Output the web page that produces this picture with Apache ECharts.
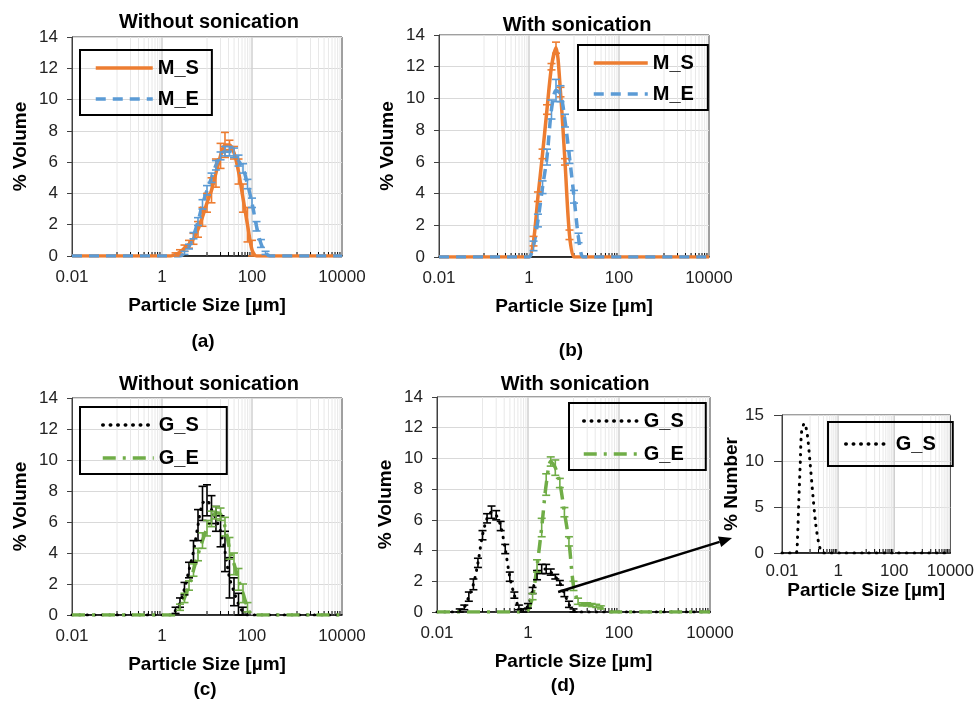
<!DOCTYPE html>
<html>
<head>
<meta charset="utf-8">
<script src="https://cdn.jsdelivr.net/npm/echarts@6/dist/echarts.min.js"></script>
</head>
<body style="margin:0; background:#fff">
<div id="container" style="width:977px;height:709px"></div>
<script>
// particle size bins (µm), 10 per decade, 0.01 .. 10000
var sizes = [
    0.01, 0.0126, 0.0158, 0.02, 0.0251, 0.0316, 0.0398, 0.0501, 0.0631, 0.0794,
    0.1, 0.126, 0.158, 0.2, 0.251, 0.316, 0.398, 0.501, 0.631, 0.794,
    1, 1.26, 1.58, 2, 2.51, 3.16, 3.98, 5.01, 6.31, 7.94,
    10, 12.6, 15.8, 20, 25.1, 31.6, 39.8, 50.1, 63.1, 79.4,
    100, 126, 158, 200, 251, 316, 398, 501, 631, 794,
    1000, 1260, 1580, 2000, 2510, 3160, 3980, 5010, 6310, 7940,
    10000
];

// (a) without sonication
var msA = [
    0, 0, 0, 0, 0, 0, 0, 0, 0, 0,
    0, 0, 0, 0, 0, 0, 0, 0, 0, 0,
    0, 0, 0, 0.1, 0.25, 0.5, 0.75, 1.1, 1.7, 2.5,
    3.4, 4.2, 5.3, 6.4, 7.1, 7.1, 6.6, 5.4, 3.7, 2.0,
    0.4, 0, 0, 0, 0, 0, 0, 0, 0, 0,
    0, 0, 0, 0, 0, 0, 0, 0, 0, 0,
    0
];
var msAErr = [
    0, 0, 0, 0, 0, 0, 0, 0, 0, 0,
    0, 0, 0, 0, 0, 0, 0, 0, 0, 0,
    0, 0, 0, 0.1, 0.15, 0.2, 0.25, 0.35, 0.5, 0.6,
    0.6, 0.8, 0.9, 0.8, 0.8, 0.3, 0.4, 0.8, 0.9, 1.1,
    0.6, 0, 0, 0, 0, 0, 0, 0, 0, 0,
    0, 0, 0, 0, 0, 0, 0, 0, 0, 0,
    0
];
var meA = [
    0, 0, 0, 0, 0, 0, 0, 0, 0, 0,
    0, 0, 0, 0, 0, 0, 0, 0, 0, 0,
    0, 0, 0, 0, 0, 0.2, 0.6, 1.3, 2.2, 3.3,
    4.2, 5.0, 5.8, 6.4, 6.7, 6.7, 6.6, 6.1, 5.6, 4.6,
    3.4, 1.9, 0.8, 0.2, 0, 0, 0, 0, 0, 0,
    0, 0, 0, 0, 0, 0, 0, 0, 0, 0,
    0
];
var meAErr = [
    0, 0, 0, 0, 0, 0, 0, 0, 0, 0,
    0, 0, 0, 0, 0, 0, 0, 0, 0, 0,
    0, 0, 0, 0, 0, 0.1, 0.15, 0.2, 0.25, 0.3,
    0.3, 0.3, 0.3, 0.25, 0.3, 0.3, 0.3, 0.35, 0.3, 0.3,
    0.3, 0.3, 0.25, 0.1, 0, 0, 0, 0, 0, 0,
    0, 0, 0, 0, 0, 0, 0, 0, 0, 0,
    0
];

// (b) with sonication
var msB = [
    0, 0, 0, 0, 0, 0, 0, 0, 0, 0,
    0, 0, 0, 0, 0, 0, 0, 0, 0, 0,
    0, 1.0, 3.8, 6.5, 9.3, 12.0, 13.2, 10.4, 6.0, 1.4,
    0, 0, 0, 0, 0, 0, 0, 0, 0, 0,
    0, 0, 0, 0, 0, 0, 0, 0, 0, 0,
    0, 0, 0, 0, 0, 0, 0, 0, 0, 0,
    0
];
var msBErr = [
    0, 0, 0, 0, 0, 0, 0, 0, 0, 0,
    0, 0, 0, 0, 0, 0, 0, 0, 0, 0,
    0, 0.3, 0.3, 0.3, 0.3, 0.2, 0.35, 0.3, 0.2, 0.3,
    0, 0, 0, 0, 0, 0, 0, 0, 0, 0,
    0, 0, 0, 0, 0, 0, 0, 0, 0, 0,
    0, 0, 0, 0, 0, 0, 0, 0, 0, 0,
    0
];
var meB = [
    0, 0, 0, 0, 0, 0, 0, 0, 0, 0,
    0, 0, 0, 0, 0, 0, 0, 0, 0, 0,
    0, 0.7, 2.3, 4.4, 6.3, 9.3, 10.5, 10.3, 8.6, 6.3,
    3.8, 1.2, 0, 0, 0, 0, 0, 0, 0, 0,
    0, 0, 0, 0, 0, 0, 0, 0, 0, 0,
    0, 0, 0, 0, 0, 0, 0, 0, 0, 0,
    0
];
var meBErr = [
    0, 0, 0, 0, 0, 0, 0, 0, 0, 0,
    0, 0, 0, 0, 0, 0, 0, 0, 0, 0,
    0, 0.3, 0.4, 0.4, 0.5, 0.6, 0.7, 0.5, 0.4, 0.4,
    0.4, 0.3, 0, 0, 0, 0, 0, 0, 0, 0,
    0, 0, 0, 0, 0, 0, 0, 0, 0, 0,
    0, 0, 0, 0, 0, 0, 0, 0, 0, 0,
    0
];

// (c) without sonication
var gsC = [
    0, 0, 0, 0, 0, 0, 0, 0, 0, 0,
    0, 0, 0, 0, 0, 0, 0, 0, 0, 0,
    0, 0, 0, 0.3, 0.8, 1.7, 2.9, 4.1, 5.8, 7.2,
    7.4, 6.8, 6.2, 5.4, 4.1, 2.4, 1.5, 0.7, 0.2, 0,
    0, 0, 0, 0, 0, 0, 0, 0, 0, 0,
    0, 0, 0, 0, 0, 0, 0, 0, 0, 0,
    0
];
var gsCErr = [
    0, 0, 0, 0, 0, 0, 0, 0, 0, 0,
    0, 0, 0, 0, 0, 0, 0, 0, 0, 0,
    0, 0, 0, 0.2, 0.3, 0.4, 0.5, 0.7, 1.0, 1.1,
    1.0, 0.9, 0.8, 1.0, 1.3, 1.3, 0.9, 0.7, 0.3, 0,
    0, 0, 0, 0, 0, 0, 0, 0, 0, 0,
    0, 0, 0, 0, 0, 0, 0, 0, 0, 0,
    0
];
var geC = [
    0, 0, 0, 0, 0, 0, 0, 0, 0, 0,
    0, 0, 0, 0, 0, 0, 0, 0, 0, 0,
    0, 0, 0, 0, 0.5, 1.1, 1.9, 2.9, 3.9, 4.8,
    5.6, 6.2, 6.6, 6.5, 5.7, 4.3, 3.3, 2.3, 1.4, 0.5,
    0, 0, 0, 0, 0, 0, 0, 0, 0, 0,
    0, 0, 0, 0, 0, 0, 0, 0, 0, 0,
    0
];
var geCErr = [
    0, 0, 0, 0, 0, 0, 0, 0, 0, 0,
    0, 0, 0, 0, 0, 0, 0, 0, 0, 0,
    0, 0, 0, 0, 0.2, 0.3, 0.3, 0.4, 0.4, 0.5,
    0.5, 0.5, 0.4, 0.4, 0.6, 0.7, 0.7, 0.7, 0.6, 0.3,
    0, 0, 0, 0, 0, 0, 0, 0, 0, 0,
    0, 0, 0, 0, 0, 0, 0, 0, 0, 0,
    0
];

// (d) with sonication
var gsD = [
    0, 0, 0, 0, 0, 0.1, 0.3, 1.0, 1.8, 3.2,
    5.0, 6.1, 6.5, 6.3, 5.6, 4.1, 2.3, 1.1, 0.3, 0.1,
    0.4, 1.4, 2.4, 2.8, 2.8, 2.6, 2.3, 1.9, 1.2, 0.5,
    0.1, 0, 0, 0, 0, 0, 0, 0, 0, 0,
    0, 0, 0, 0, 0, 0, 0, 0, 0, 0,
    0, 0, 0, 0, 0, 0, 0, 0, 0, 0,
    0
];
var gsDErr = [
    0, 0, 0, 0, 0, 0.1, 0.15, 0.3, 0.35, 0.3,
    0.3, 0.3, 0.4, 0.3, 0.3, 0.3, 0.3, 0.2, 0.15, 0.1,
    0.15, 0.2, 0.3, 0.3, 0.3, 0.2, 0.15, 0.15, 0.2, 0.2,
    0.1, 0, 0, 0, 0, 0, 0, 0, 0, 0,
    0, 0, 0, 0, 0, 0, 0, 0, 0, 0,
    0, 0, 0, 0, 0, 0, 0, 0, 0, 0,
    0
];
var geD = [
    0, 0, 0, 0, 0, 0, 0, 0, 0, 0,
    0, 0, 0, 0, 0, 0, 0, 0, 0, 0,
    0.1, 1.0, 3.0, 5.5, 8.3, 9.8, 9.4, 8.4, 6.5, 4.6,
    1.7, 0.7, 0.5, 0.5, 0.45, 0.4, 0.3, 0.1, 0, 0,
    0, 0, 0, 0, 0, 0, 0, 0, 0, 0,
    0, 0, 0, 0, 0, 0, 0, 0, 0, 0,
    0
];
var geDErr = [
    0, 0, 0, 0, 0, 0, 0, 0, 0, 0,
    0, 0, 0, 0, 0, 0, 0, 0, 0, 0,
    0, 0.2, 0.4, 0.6, 0.7, 0.3, 0.5, 0.3, 0.3, 0.3,
    0.3, 0.2, 0.1, 0.1, 0.1, 0.1, 0.1, 0, 0, 0,
    0, 0, 0, 0, 0, 0, 0, 0, 0, 0,
    0, 0, 0, 0, 0, 0, 0, 0, 0, 0,
    0
];

// inset: G_S number distribution
var insetSizes = [0.01, 0.0316, 0.0355, 0.0398, 0.0447, 0.0501, 0.0631, 0.0794, 0.1, 0.126, 0.158, 0.2, 0.251, 0.316, 1, 10, 100, 1000, 10000];
var insetNumber = [0, 0, 1.5, 5.7, 9.7, 13.2, 14.1, 12.9, 9.8, 6.3, 3.2, 1.2, 0.15, 0, 0, 0, 0, 0, 0];

var xTickLabels = ['0.01', '1', '100', '10000'];
var majorX = [1, 100];
var minorX = [0.1, 0.2, 0.3, 0.4, 0.5, 0.6, 0.7, 0.8, 0.9,
    10, 20, 30, 40, 50, 60, 70, 80, 90,
    1000, 2000, 3000, 4000, 5000, 6000, 7000, 8000, 9000];

var ORANGE = '#ED7D31', BLUE = '#5B9BD5', GREEN = '#70AD47', BLACK = '#000';
var FONT = 'Liberation Sans, Arial, sans-serif';

var dom = document.getElementById('container');
var myChart = echarts.init(dom);

function pairs(vals) {
    return sizes.map(function (s, i) { return [s, vals[i]]; });
}
function errData(vals, errs) {
    var out = [];
    sizes.forEach(function (s, i) {
        if (errs[i] > 0) out.push([s, vals[i], errs[i]]);
    });
    return out;
}

function errBar(color) {
    return function (params, api) {
        var x = api.value(0), y = api.value(1), e = api.value(2);
        var top = api.coord([x, y + e]);
        var bot = api.coord([x, Math.max(y - e, 0)]);
        var w = 4;
        var st = {stroke: color, lineWidth: 1.6};
        return {
            type: 'group',
            children: [
                {type: 'line', shape: {x1: top[0], y1: top[1], x2: bot[0], y2: bot[1]}, style: st},
                {type: 'line', shape: {x1: top[0] - w, y1: top[1], x2: top[0] + w, y2: top[1]}, style: st},
                {type: 'line', shape: {x1: bot[0] - w, y1: bot[1], x2: bot[0] + w, y2: bot[1]}, style: st}
            ]
        };
    };
}

function gridItem(params, api) {
    var x = api.coord([api.value(0), 0])[0];
    var cs = params.coordSys;
    var major = api.value(2) === 1;
    var ch = [{
        type: 'line',
        shape: {x1: x, y1: cs.y, x2: x, y2: cs.y + cs.height},
        style: {stroke: major ? '#d0d0d0' : '#e8e8e8', lineWidth: major ? 1.5 : 1}
    }];
    if (!major) {
        ch.push({
            type: 'line',
            shape: {x1: x, y1: cs.y + cs.height, x2: x, y2: cs.y + cs.height - 4},
            style: {stroke: '#000', lineWidth: 1}
        });
    }
    return {type: 'group', children: ch};
}

var gridData = minorX.map(function (v) { return [v, 0, 0]; })
    .concat(majorX.map(function (v) { return [v, 0, 1]; }));

var grids = [
    {left: 72, top: 37, width: 270, height: 219},
    {left: 439, top: 35, width: 270, height: 222},
    {left: 72, top: 398, width: 270, height: 217},
    {left: 437, top: 397, width: 273, height: 215},
    {left: 782, top: 415, width: 170, height: 138}
];
grids.forEach(function (g) {
    g.show = true;
    g.borderColor = '#404040';
    g.borderWidth = 1;
    g.backgroundColor = 'transparent';
});

function xAx(i, gap, margin) {
    return {
        type: 'log', logBase: 10, gridIndex: i, min: 0.01, max: 10000,
        name: 'Particle Size [µm]', nameLocation: 'middle', nameGap: gap,
        nameTextStyle: {fontFamily: FONT, fontWeight: 'bold', fontSize: 19, color: '#000'},
        axisLine: {lineStyle: {color: '#000', width: 1.5}},
        axisTick: {show: false},
        splitLine: {show: false},
        axisLabel: {
            fontFamily: FONT, fontSize: 17, color: '#222', margin: margin,
            formatter: function (v) {
                for (var k = 0; k < xTickLabels.length; k++) {
                    var t = Number(xTickLabels[k]);
                    if (Math.abs(v - t) / t < 1e-6) return xTickLabels[k];
                }
                return '';
            }
        }
    };
}
function yAx(i, name, max, step, gap, margin, tick) {
    return {
        type: 'value', gridIndex: i, min: 0, max: max, interval: step,
        name: name, nameLocation: 'middle', nameGap: gap, nameRotate: 90,
        nameTextStyle: {fontFamily: FONT, fontWeight: 'bold', fontSize: 19, color: '#000'},
        axisLine: {show: true, lineStyle: {color: '#404040'}},
        axisTick: {show: true, length: tick, lineStyle: {color: '#404040'}},
        splitLine: {lineStyle: {color: '#d9d9d9'}},
        axisLabel: {fontFamily: FONT, fontSize: 17, color: '#222', margin: margin}
    };
}

function leg(names, left, top, itemWidth, gap, padding) {
    return {
        data: names, left: left, top: top, orient: 'vertical',
        itemWidth: itemWidth, itemHeight: 14, itemGap: gap,
        borderColor: '#000', borderWidth: 2, borderRadius: 0,
        padding: padding, selectedMode: false,
        itemStyle: {opacity: 0, color: 'transparent', borderColor: 'transparent'},
        lineStyle: {width: 3.5},
        textStyle: {fontFamily: FONT, fontSize: 20, fontWeight: 'bold', color: '#000'}
    };
}

var styles = {
    ms: {color: ORANGE, width: 3.5, type: 'solid'},
    me: {color: BLUE, width: 3.5, type: [10, 7]},
    gs: {color: BLACK, width: 3, type: [0.5, 7], cap: 'round'},
    ge: {color: GREEN, width: 3.5, type: [13, 7, 3, 7]}
};

function line(name, idx, data, st) {
    return {
        name: name, type: 'line', xAxisIndex: idx, yAxisIndex: idx,
        data: data, symbol: 'none', smooth: 0.3, z: 3,
        lineStyle: st, itemStyle: {color: st.color}
    };
}
function bars(idx, vals, errs, color) {
    return {
        type: 'custom', xAxisIndex: idx, yAxisIndex: idx, silent: true, z: 4,
        renderItem: errBar(color), data: errData(vals, errs)
    };
}

var series = [];
for (var g = 0; g < 5; g++) {
    series.push({
        type: 'custom', xAxisIndex: g, yAxisIndex: g, silent: true, z: 1,
        renderItem: gridItem, data: gridData
    });
}
series.push(
    bars(0, msA, msAErr, ORANGE), line('M_S', 0, pairs(msA), styles.ms),
    bars(0, meA, meAErr, BLUE), line('M_E', 0, pairs(meA), styles.me),
    bars(1, msB, msBErr, ORANGE), line('M_S', 1, pairs(msB), styles.ms),
    bars(1, meB, meBErr, BLUE), line('M_E', 1, pairs(meB), styles.me),
    bars(2, gsC, gsCErr, BLACK), line('G_S', 2, pairs(gsC), styles.gs),
    bars(2, geC, geCErr, GREEN), line('G_E', 2, pairs(geC), styles.ge),
    bars(3, gsD, gsDErr, BLACK), line('G_S', 3, pairs(gsD), styles.gs),
    bars(3, geD, geDErr, GREEN), line('G_E', 3, pairs(geD), styles.ge),
    line('G_S', 4, insetSizes.map(function (s, i) { return [s, insetNumber[i]]; }), styles.gs)
);

function label(x, y, text, size) {
    return {
        type: 'text', x: x, y: y, silent: true,
        style: {text: text, fontFamily: FONT, fontWeight: 'bold', fontSize: size,
            fill: '#000', textAlign: 'center', textVerticalAlign: 'middle'}
    };
}

var option = {
    animation: false,
    backgroundColor: '#fff',
    grid: grids,
    xAxis: [xAx(0, 40, 13), xAx(1, 40, 13), xAx(2, 40, 13), xAx(3, 40, 13), xAx(4, 27, 10)],
    yAxis: [
        yAx(0, '% Volume', 14, 2, 42, 14, 5),
        yAx(1, '% Volume', 14, 2, 42, 14, 5),
        yAx(2, '% Volume', 14, 2, 42, 14, 5),
        yAx(3, '% Volume', 14, 2, 42, 14, 5),
        yAx(4, '% Number', 15, 5, 33, 18, 8)
    ],
    legend: [
        leg(['M_S', 'M_E'], 80, 50, 57, 11, [8, 13, 6, 14]),
        leg(['M_S', 'M_E'], 578, 45, 54, 11, [8, 14, 6, 14]),
        leg(['G_S', 'G_E'], 80, 407, 51, 13, [8, 28, 6, 21]),
        leg(['G_S', 'G_E'], 569, 403, 55, 13, [8, 22, 6, 13]),
        leg(['G_S'], 828, 422, 45, 10, [12, 17, 12, 16])
    ],
    series: series,
    graphic: [
        label(209, 22, 'Without sonication', 20),
        label(577, 25, 'With sonication', 20),
        label(209, 384, 'Without sonication', 20),
        label(575, 384, 'With sonication', 20),
        label(203, 342, '(a)', 19),
        label(571, 351, '(b)', 19),
        label(205, 690, '(c)', 19),
        label(563, 686, '(d)', 19)
    ]
};
myChart.setOption(option);

// arrow from the second G_S mode in (d) towards the inset
var p0 = myChart.convertToPixel({xAxisIndex: 3, yAxisIndex: 3}, [4.6, 1.3]);
var p1 = [732, 538];
var ang = Math.atan2(p1[1] - p0[1], p1[0] - p0[0]);
var hl = 13, hw = 5.5;
var base = [p1[0] - hl * Math.cos(ang), p1[1] - hl * Math.sin(ang)];
var arrow = [
    {type: 'line', silent: true, z: 10,
        shape: {x1: p0[0], y1: p0[1], x2: base[0], y2: base[1]},
        style: {stroke: '#000', lineWidth: 2.5}},
    {type: 'polygon', silent: true, z: 10,
        shape: {points: [
            p1,
            [base[0] + hw * Math.sin(ang), base[1] - hw * Math.cos(ang)],
            [base[0] - hw * Math.sin(ang), base[1] + hw * Math.cos(ang)]
        ]},
        style: {fill: '#000'}}
];
myChart.setOption({graphic: option.graphic.concat(arrow)});
window.onresize = myChart.resize;
</script>
</body>
</html>
